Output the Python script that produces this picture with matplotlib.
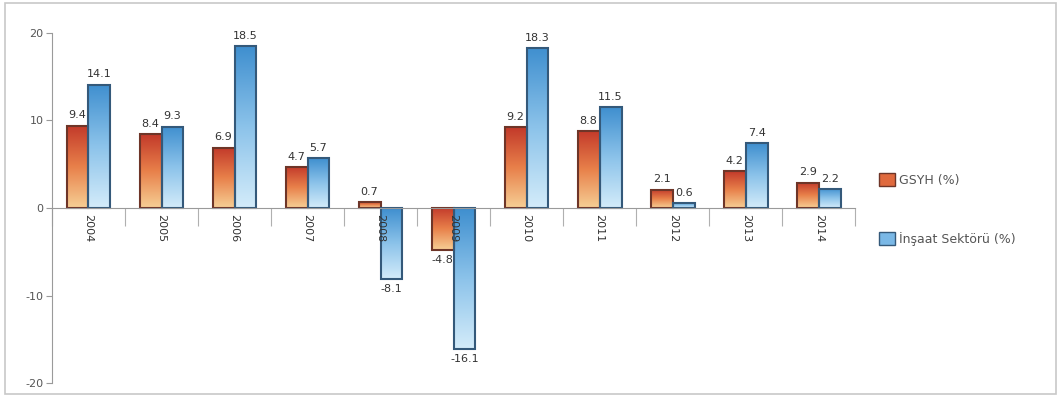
import numpy as np
import matplotlib.pyplot as plt
import matplotlib.colors as colors
from matplotlib.patches import Rectangle

plt.rcParams['axes.unicode_minus'] = False

years = ['2004', '2005', '2006', '2007', '2008', '2009', '2010', '2011', '2012', '2013', '2014']
gsyh = [9.4, 8.4, 6.9, 4.7, 0.7, -4.8, 9.2, 8.8, 2.1, 4.2, 2.9]
insaat = [14.1, 9.3, 18.5, 5.7, -8.1, -16.1, 18.3, 11.5, 0.6, 7.4, 2.2]
series_names = ['GSYH (%)', 'İnşaat Sektörü (%)']

red_cmap = colors.LinearSegmentedColormap.from_list('r', ['#f6cf95', '#e8804a', '#c2392a'])
blue_cmap = colors.LinearSegmentedColormap.from_list('b', ['#d4ecfa', '#8cc3ea', '#3f8fcf'])
red_edge = '#6e3528'
blue_edge = '#34597a'

fig = plt.figure(figsize=(10.61, 3.97), dpi=100)
ax = fig.add_axes([0.049, 0.035, 0.757, 0.882])

x = np.arange(len(years)) + 0.5
w = 0.30
grad = np.linspace(0, 1, 256).reshape(-1, 1)


def gradient_bars(xpos, vals, cmap, edge):
    bars = ax.bar(xpos, vals, w, facecolor='none', edgecolor=edge, linewidth=1.5, zorder=3)
    for b in bars:
        x0, y0 = b.get_x(), b.get_y()
        h = b.get_height()
        bot, top = min(y0, y0 + h), max(y0, y0 + h)
        im = ax.imshow(grad, cmap=cmap, aspect='auto', origin='lower',
                       extent=[x0, x0 + b.get_width(), bot, top], zorder=2)
        im.set_clip_path(b)
    return bars


gradient_bars(x - w / 2, gsyh, red_cmap, red_edge)
gradient_bars(x + w / 2, insaat, blue_cmap, blue_edge)

# value labels
for xi, v in zip(x - w / 2, gsyh):
    ax.text(xi, v + (0.6 if v >= 0 else -0.6), f'{v:.1f}', ha='center',
            va='bottom' if v >= 0 else 'top', fontsize=8, color='#333333', zorder=5)
for xi, v in zip(x + w / 2, insaat):
    ax.text(xi, v + (0.6 if v >= 0 else -0.6), f'{v:.1f}', ha='center',
            va='bottom' if v >= 0 else 'top', fontsize=8, color='#333333', zorder=5)

# year labels just below the zero line
for xi, y in zip(x, years):
    ax.text(xi, -0.7, y, rotation=270, ha='center', va='top', fontsize=8,
            color='#333333', zorder=6)

ax.set_xlim(0, len(years))
ax.set_ylim(-20, 20)

ax.spines['top'].set_visible(False)
ax.spines['right'].set_visible(False)
ax.spines['bottom'].set_position(('data', 0))
ax.spines['bottom'].set_color('#9a9a9a')
ax.spines['left'].set_color('#9a9a9a')
ax.spines['bottom'].set_zorder(4)

ax.set_xticks(np.arange(len(years) + 1))
ax.set_xticklabels([])
ax.tick_params(axis='x', length=13, color='#b0b0b0', direction='out')
ax.set_yticks([-20, -10, 0, 10, 20])
ax.tick_params(axis='y', length=4, color='#9a9a9a', labelsize=8, labelcolor='#555555', pad=2)

# legend
handles = [Rectangle((0, 0), 1, 1, facecolor='#e06a3e', edgecolor=red_edge),
           Rectangle((0, 0), 1, 1, facecolor='#7ab8e6', edgecolor=blue_edge)]
fig.legend(handles, series_names, loc='center left', bbox_to_anchor=(0.818, 0.473),
           frameon=False, fontsize=9, labelcolor='#555555', labelspacing=3.6,
           handlelength=1.3, handleheight=1.3, handletextpad=0.3)

# outer border
fig.patches.append(Rectangle((0.005, 0.008), 0.99, 0.984, transform=fig.transFigure,
                             fill=False, edgecolor='#c8c8c8', linewidth=1.2))

fig.savefig('out.png', dpi=100)
